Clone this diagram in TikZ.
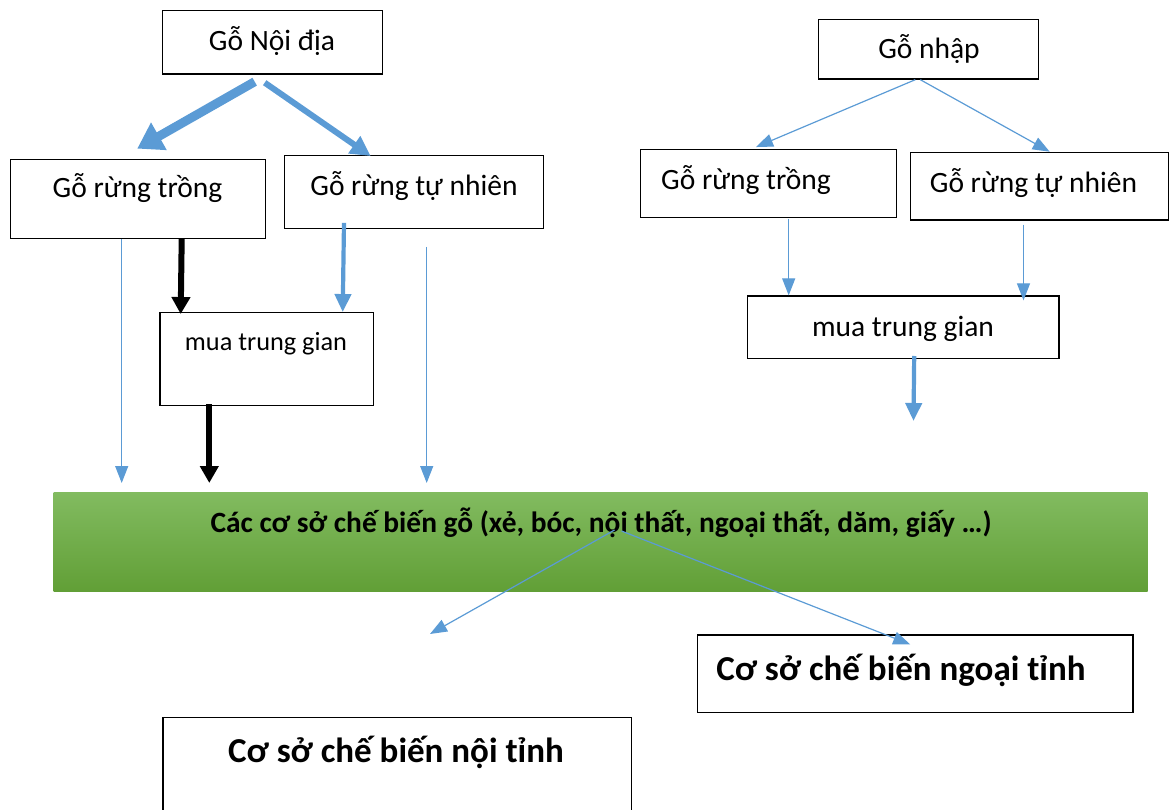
\documentclass[tikz,border=0pt]{standalone}
\usepackage{fontspec}
\setmainfont{Carlito}
\usepackage{tikz}
\usetikzlibrary{arrows.meta,calc,positioning}
\definecolor{arrowblue}{RGB}{91,155,213}
\definecolor{bartop}{RGB}{130,187,96}
\definecolor{barbottom}{RGB}{97,159,54}

\begin{document}
\begin{tikzpicture}[x=1pt,y=-1pt,
  box/.style={draw=black,line width=1.3pt,inner sep=0pt},
  txt/.style={anchor=base,font=\fontsize{29.5}{34}\selectfont},
  smalltxt/.style={anchor=base,font=\fontsize{26.3}{30}\selectfont},
  boldtxt/.style={anchor=base,font=\fontsize{35}{40}\selectfont\bfseries},
  bartxt/.style={anchor=base,font=\fontsize{29.4}{34}\selectfont\bfseries},
  thin/.style={draw=arrowblue,line width=1.2pt,-{Triangle[width=13pt,length=17pt]}},
  midblue/.style={draw=arrowblue,line width=4.2pt,-{Triangle[width=16pt,length=18pt]}},
  wideblue/.style={draw=arrowblue,line width=6pt,-{Triangle[width=20pt,length=20pt]}},
  fatblue/.style={draw=arrowblue,line width=9pt,-{Triangle[width=30pt,length=25pt]}},
  fatblack/.style={draw=black,line width=6pt,-{Triangle[width=18pt,length=17pt]}}]
\useasboundingbox (0,0) rectangle (1171,810);

\node[box,minimum width=220pt,minimum height=63.5pt] (ndia) at (272.7,42.3) {};
\node[txt] (ndia-t) at (272,51) {Gỗ Nội địa};
\node[box,minimum width=255pt,minimum height=79pt] (lt) at (138.2,198.8) {};
\node[txt] (lt-t) at (137.5,198) {Gỗ rừng trồng};
\node[box,minimum width=259pt,minimum height=72.6pt] (ltn) at (413.7,192) {};
\node[txt] (ltn-t) at (414,195.5) {Gỗ rừng tự nhiên};
\node[box,minimum width=213.3pt,minimum height=93pt] (lmua) at (266.7,359.2) {};
\node[smalltxt] (lmua-t) at (266,350.5) {mua trung gian};

\node[box,minimum width=220pt,minimum height=59.7pt] (nhap) at (928.3,49.2) {};
\node[txt] (nhap-t) at (929,59) {Gỗ nhập};
\node[box,minimum width=256pt,minimum height=68pt] (rt) at (768.7,183.3) {};
\node[txt] (rt-t) at (746,189.5) {Gỗ rừng trồng};
\node[box,minimum width=258.5pt,minimum height=67.3pt] (rtn) at (1039.5,186.4) {};
\node[txt] (rtn-t) at (1033.5,192.5) {Gỗ rừng tự nhiên};
\node[box,minimum width=311.3pt,minimum height=62.3pt] (rmua) at (903.2,327.2) {};
\node[txt] (rmua-t) at (903,336.5) {mua trung gian};

\node[inner sep=0pt,minimum width=1094pt,minimum height=99.4pt,
  top color=bartop,bottom color=barbottom] (bar) at (600.5,542) {};
\node[bartxt] (bar-t) at (601,532.5) {Các cơ sở chế biến gỗ (xẻ, bóc, nội thất, ngoại thất, dăm, giấy …)};

\node[box,minimum width=435.3pt,minimum height=77.3pt] (ngoai) at (915.2,673.7) {};
\node[boldtxt] (ngoai-t) at (901,680) {Cơ sở chế biến ngoại tỉnh};
\node[box,minimum width=468.8pt,minimum height=103pt] (noi) at (397.4,768.8) {};
\node[boldtxt] (noi-t) at (396,762) {Cơ sở chế biến nội tỉnh};

\coordinate (e1) at (121.7,483);
\coordinate (e2) at (209.3,483);
\coordinate (e3) at (426.7,483);
\coordinate (e4) at (913.5,421);
\coordinate (e5) at (430,634);

\draw[fatblue] ([xshift=-18pt,yshift=-7pt]ndia.south) -- ([xshift=-1pt,yshift=10pt]lt.north);
\draw[wideblue] ([xshift=-8pt,yshift=-8pt]ndia.south) -- ([xshift=-43pt,yshift=-1pt]ltn.north);
\draw[thin] ([xshift=-16.5pt]lt.south) -- (e1);
\draw[fatblack] ([xshift=43.5pt]lt.south) -- ([xshift=-86pt,yshift=-2pt]lmua.north);
\draw[midblue] ([xshift=-69.7pt,yshift=6pt]ltn.south) -- ([xshift=76pt]lmua.north);
\draw[thin] ([xshift=13pt,yshift=-18pt]ltn.south) -- (e3);
\draw[fatblack] ([xshift=-57.4pt,yshift=2pt]lmua.south) -- (e2);

\draw[thin] ([xshift=-13pt]nhap.south) -- ([xshift=-12.7pt,yshift=1.6pt]rt.north);
\draw[thin] ([xshift=-8pt]nhap.south) -- ([xshift=10.2pt,yshift=0.4pt]rtn.north);
\draw[thin] ([xshift=20pt,yshift=-1pt]rt.south) -- ([xshift=-114.5pt]rmua.north);
\draw[thin] ([xshift=-16pt,yshift=-4pt]rtn.south) -- ([xshift=120.3pt,yshift=-5pt]rmua.north);
\draw[midblue] ([xshift=11pt,yshift=3pt]rmua.south) -- (e4);

\draw[thin] ([xshift=14pt,yshift=12pt]bar.center) -- (e5);
\draw[thin] ([xshift=21pt,yshift=11pt]bar.center) -- ([xshift=-5pt,yshift=-10pt]ngoai.north);
\end{tikzpicture}
\end{document}
